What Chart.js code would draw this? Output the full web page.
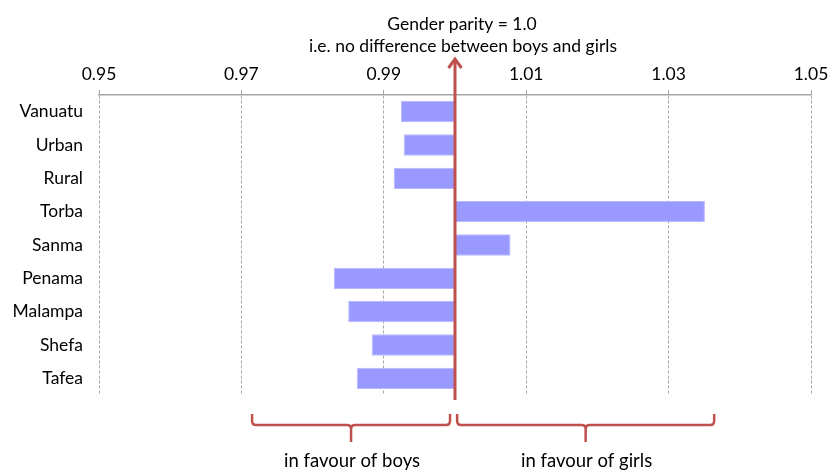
<!DOCTYPE html>
<html>
<head>
<meta charset="utf-8">
<script src="https://cdn.jsdelivr.net/npm/chart.js@4"></script>
<style>
    html, body { margin: 0; padding: 0; background: #fff; }
    #wrap { width: 829px; height: 472px; position: relative; }
</style>
</head>
<body>
<div id="wrap"><canvas id="parityChart"></canvas></div>
<script>
const regions = ['Vanuatu', 'Urban', 'Rural', 'Torba', 'Sanma', 'Penama', 'Malampa', 'Shefa', 'Tafea'];
const parity = [0.9924, 0.9928, 0.9914, 1.0351, 1.0078, 0.9830, 0.9850, 0.9883, 0.9862];
const xTicks = [0.95, 0.97, 0.99, 1.01, 1.03, 1.05];
const parityLine = 1.0;
const titleLines = ['Gender parity = 1.0', 'i.e. no difference between boys and girls'];
const braceLabels = ['in favour of boys', 'in favour of girls'];
const braceRanges = [[0.9715, 0.9993], [1.0003, 1.0364]];

const FONT = 'Lato, "Open Sans", sans-serif';
const RED = '#C0504D';

// red parity arrow, title text, braces below the plot
const overlay = {
    id: 'overlay',
    afterDatasetsDraw(chart) {
        const {ctx, chartArea, scales: {x}} = chart;
        const px = x.getPixelForValue(parityLine);
        ctx.save();
        ctx.strokeStyle = RED;
        ctx.fillStyle = RED;
        ctx.lineWidth = 3;
        ctx.beginPath();
        ctx.moveTo(px, chartArea.bottom + 5);
        ctx.lineTo(px, chartArea.top - 35);
        ctx.stroke();
        // arrow head
        ctx.lineWidth = 3;
        ctx.lineJoin = 'miter';
        ctx.beginPath();
        ctx.moveTo(px - 6.5, chartArea.top - 27);
        ctx.lineTo(px, chartArea.top - 36);
        ctx.lineTo(px + 6.5, chartArea.top - 27);
        ctx.stroke();

        // title
        ctx.fillStyle = '#000';
        ctx.font = '17.5px ' + FONT;
        ctx.textAlign = 'center';
        ctx.textBaseline = 'middle';
        ctx.fillText(titleLines[0], px + 7, 24);
        ctx.fillText(titleLines[1], px + 8, 46);

        // braces
        ctx.strokeStyle = RED;
        ctx.lineWidth = 2.5;
        ctx.lineJoin = 'round';
        const top = chartArea.bottom + 19;
        const mid = chartArea.bottom + 30;
        const tip = chartArea.bottom + 47;
        braceRanges.forEach((r, i) => {
            const a = x.getPixelForValue(r[0]);
            const b = x.getPixelForValue(r[1]);
            const c = (a + b) / 2;
            ctx.beginPath();
            ctx.moveTo(a, top);
            ctx.lineTo(a, mid - 4);
            ctx.quadraticCurveTo(a, mid, a + 4, mid);
            ctx.lineTo(c - 4, mid);
            ctx.quadraticCurveTo(c, mid, c, mid + 4);
            ctx.lineTo(c, tip);
            ctx.moveTo(c, mid + 4);
            ctx.quadraticCurveTo(c, mid, c + 4, mid);
            ctx.lineTo(b - 4, mid);
            ctx.quadraticCurveTo(b, mid, b, mid - 4);
            ctx.lineTo(b, top);
            ctx.stroke();
            ctx.fillStyle = '#000';
            ctx.font = '18.5px ' + FONT;
            ctx.fillText(braceLabels[i], c + 1, chartArea.bottom + 66);
        });
        ctx.restore();
    }
};

const config = {
    type: 'bar',
    data: {
        labels: regions,
        datasets: [{
            data: parity.map(v => [parityLine, v]),
            backgroundColor: '#9999FF',
            borderColor: '#B8B8FF',
            borderWidth: 1,
            borderSkipped: false,
            barPercentage: 0.64,
            categoryPercentage: 1
        }]
    },
    options: {
        indexAxis: 'y',
        responsive: true,
        maintainAspectRatio: false,
        animation: false,
        layout: {
            padding: {top: 60, right: 18, bottom: 77, left: 0}
        },
        plugins: {
            legend: {display: false},
            tooltip: {enabled: false}
        },
        scales: {
            x: {
                position: 'top',
                min: 0.95,
                max: 1.05,
                afterBuildTicks: scale => {
                    scale.ticks = xTicks.map(v => ({value: v}));
                },
                afterFit: scale => {
                    scale.height = 35;
                    scale.paddingRight = 0;
                    scale.paddingLeft = 0;
                },
                ticks: {
                    padding: 5,
                    color: '#000',
                    font: {family: FONT, size: 17.5},
                    callback: v => Number(v).toFixed(2).replace(/(\.\d)0$/, '$1')
                },
                grid: {
                    color: '#A6A6A6',
                    tickColor: '#A6A6A6',
                    tickLength: 5
                },
                border: {
                    display: true,
                    color: '#A6A6A6',
                    width: 1.5,
                    dash: [3, 2]
                }
            },
            y: {
                afterFit: scale => { scale.width = 99; },
                grid: {display: false, drawTicks: false},
                border: {display: false},
                ticks: {
                    padding: 16,
                    color: '#000',
                    font: {family: FONT, size: 17.5}
                }
            }
        }
    },
    plugins: [overlay]
};

const ctx = document.getElementById('parityChart');
if (ctx) {
    new Chart(ctx.getContext('2d'), config);
} else {
    console.error('Cannot find element with id "parityChart"');
}
</script>
</body>
</html>
